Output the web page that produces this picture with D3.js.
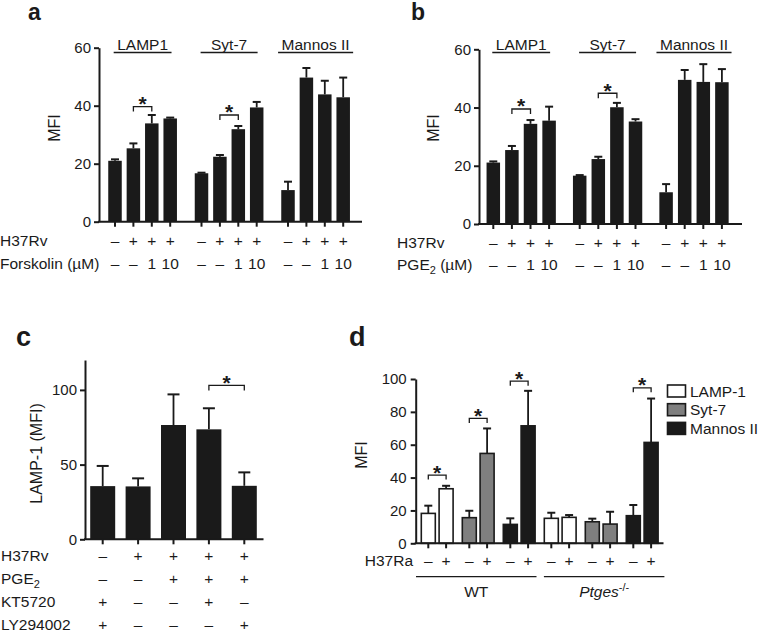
<!DOCTYPE html>
<html><head><meta charset="utf-8">
<script src="https://cdn.jsdelivr.net/npm/d3@7"></script>
<style>
body{margin:0;background:#fff}
text{font-family:"Liberation Sans",Arial,Helvetica,sans-serif;fill:#1a1a1a}
</style>
</head><body>
<svg id="chart" width="758" height="633"></svg>
<script>
// ---------------- DATA ----------------
const abGroups = ["LAMP1", "Syt-7", "Mannos II"];
const abTicks = [0, 20, 40, 60];
// panel a (Forskolin)
const aMean = [[21.0, 25.3, 33.9, 35.6], [16.7, 22.4, 31.9, 39.4], [10.9, 49.7, 43.9, 42.9]];
const aSD   = [[0.5, 1.7, 2.9, 0.3], [0.2, 0.6, 1.1, 1.9], [2.9, 3.3, 4.7, 6.8]];
const aH37Rv = ["–", "+", "+", "+"];
const aForskolin = ["–", "–", "1", "10"];
const aSig = [{g: 0, from: 1, to: 2, level: 39.7}, {g: 1, from: 1, to: 2, level: 36.8}];
// panel b (PGE2)
const bMean = [[21.1, 25.4, 34.4, 35.5], [16.6, 22.3, 40.1, 35.2], [10.9, 49.5, 48.8, 48.7]];
const bSD   = [[0.4, 1.4, 1.3, 4.8], [0.2, 0.8, 1.5, 0.8], [2.8, 3.4, 6.1, 4.5]];
const bH37Rv = ["–", "+", "+", "+"];
const bPGE2 = ["–", "–", "1", "10"];
const bSig = [{g: 0, from: 1, to: 2, level: 39.5}, {g: 1, from: 1, to: 2, level: 44.9}];
// panel c
const cMean = [35.6, 35.4, 76.5, 73.6, 35.8];
const cSD   = [13.5, 5.4, 20.5, 14.1, 9.0];
const cTicks = [0, 50, 100];
const cRowLabels = ["H37Rv", "PGE2", "KT5720", "LY294002"];
const cRows = [
  ["–", "+", "+", "+", "+"],
  ["–", "–", "+", "+", "+"],
  ["+", "–", "–", "+", "–"],
  ["+", "–", "–", "–", "+"]
];
const cSig = [{from: 3, to: 4, level: 103}];
// panel d
const dSeries = ["LAMP-1", "Syt-7", "Mannos II"];
const dStrains = ["WT", "Ptges"];
const dH37Ra = ["–", "+"];
// [strain][series][-,+]
const dMean = [
  [[18.2, 33.2], [15.6, 54.7], [11.5, 71.5]],
  [[15.2, 15.8], [13.1, 11.7], [16.8, 61.4]]
];
const dSD = [
  [[4.7, 1.8], [4.2, 15.2], [3.7, 21.3]],
  [[3.4, 1.4], [1.9, 7.5], [6.5, 26.7]]
];
const dTicks = [0, 20, 40, 60, 80, 100];
const dSig = [
  {strain: 0, series: 0, level: 41.5},
  {strain: 0, series: 1, level: 76.0},
  {strain: 0, series: 2, level: 98.7},
  {strain: 1, series: 2, level: 94.6}
];

// ---------------- DRAWING ----------------
const svg = d3.select("#chart");
const INK = "#1a1a1a";
const FS = 15.5;

function nestedX(first, gstep, istep, nG, nI) {
  const bw = istep * nI;
  const start = first - istep / 2;
  const outer = d3.scaleBand().domain(d3.range(nG))
    .range([start, start + (nG - 1) * gstep + bw]).paddingInner(1 - bw / gstep).paddingOuter(0);
  const inner = d3.scaleBand().domain(d3.range(nI)).range([0, bw]);
  return (g, i) => outer(g) + inner(i) + inner.bandwidth() / 2;
}

function yAxis(scale, ticks, x, pad) {
  const ax = d3.axisLeft(scale).tickValues(ticks).tickSize(5).tickSizeOuter(0).tickPadding(pad || 3);
  const g = svg.append("g").attr("transform", `translate(${x},0)`).call(ax);
  g.select(".domain").attr("stroke", INK).attr("stroke-width", 2);
  g.selectAll(".tick line").attr("stroke", INK).attr("stroke-width", 2);
  g.selectAll(".tick text").attr("font-size", 15).attr("fill", INK)
    .attr("font-family", '"Liberation Sans",Arial,sans-serif');
  return g;
}

function xBase(x0, x1, y0, centers) {
  svg.append("line").attr("x1", x0 - 1).attr("x2", x1).attr("y1", y0).attr("y2", y0)
    .attr("stroke", INK).attr("stroke-width", 2);
  svg.append("g").selectAll("line").data(centers).join("line")
    .attr("x1", d => d).attr("x2", d => d).attr("y1", y0).attr("y2", y0 + 5)
    .attr("stroke", INK).attr("stroke-width", 2);
}

function bar(cx, w, v, sd, y, capW, fill, stroke) {
  const y0 = y(0);
  svg.append("rect").attr("x", cx - w / 2).attr("y", y(v)).attr("width", w).attr("height", y0 - y(v))
    .attr("fill", fill).attr("stroke", stroke || "none").attr("stroke-width", stroke ? 1.6 : 0);
  svg.append("line").attr("x1", cx).attr("x2", cx).attr("y1", y(v)).attr("y2", y(v + sd))
    .attr("stroke", INK).attr("stroke-width", 1.8);
  svg.append("line").attr("x1", cx - capW / 2).attr("x2", cx + capW / 2).attr("y1", y(v + sd)).attr("y2", y(v + sd))
    .attr("stroke", INK).attr("stroke-width", 2);
}

function bracket(x1, x2, yb, leg) {
  svg.append("path").attr("d", `M${x1},${yb + leg}V${yb}H${x2}V${yb + leg}`)
    .attr("fill", "none").attr("stroke", INK).attr("stroke-width", 1.3);
  svg.append("text").attr("x", (x1 + x2) / 2).attr("y", yb + 4.5).attr("text-anchor", "middle")
    .attr("font-size", 21).attr("font-weight", "bold").text("*");
}

function panelLabel(t, x, y, fs) {
  svg.append("text").attr("x", x).attr("y", y).attr("font-size", fs).attr("font-weight", "bold").text(t);
}

function yTitle(t, x, y) {
  svg.append("text").attr("transform", `translate(${x},${y}) rotate(-90)`).attr("text-anchor", "middle")
    .attr("font-size", 16).text(t);
}

// ---- panels a & b ----
function panelAB(o) {
  const xc = nestedX(o.first, o.gstep, o.istep, 3, 4);
  const centers = [];
  o.mean.forEach((grp, g) => grp.forEach((v, i) => {
    centers.push(xc(g, i));
    bar(xc(g, i), 13.5, v, o.sd[g][i], o.y, 8, INK);
  }));
  xBase(o.axisX, o.axisEnd, o.y(0), centers);
  yAxis(o.y, abTicks, o.axisX);
  abGroups.forEach((name, g) => {
    const c = (xc(g, 0) + xc(g, 3)) / 2;
    const t = svg.append("text").attr("x", c).attr("y", 50).attr("text-anchor", "middle")
      .attr("font-size", FS).text(name);
    const w = Math.max(t.node().getComputedTextLength() + 7, 57);
    svg.append("line").attr("x1", c - w / 2).attr("x2", c + w / 2).attr("y1", 52.5).attr("y2", 52.5)
      .attr("stroke", INK).attr("stroke-width", 1.3);
  });
  o.sig.forEach(s => bracket(xc(s.g, s.from), xc(s.g, s.to), o.y(s.level), 5));
  [o.row1, o.row2].forEach((row, r) => {
    abGroups.forEach((_, g) => row.forEach((s, i) => {
      svg.append("text").attr("x", xc(g, i)).attr("y", o.rowY[r]).attr("text-anchor", "middle")
        .attr("font-size", FS).text(s);
    }));
  });
  svg.append("text").attr("x", o.labelX).attr("y", o.rowY[0]).attr("font-size", FS).text("H37Rv");
  const l2 = svg.append("text").attr("x", o.labelX).attr("y", o.rowY[1]).attr("font-size", FS);
  o.row2Label(l2);
  yTitle("MFI", o.titleX, 128);
}

panelAB({
  mean: aMean, sd: aSD, sig: aSig, row1: aH37Rv, row2: aForskolin,
  first: 115, gstep: 86.5, istep: 18.4, axisX: 99, axisEnd: 362,
  y: d3.scaleLinear().domain([0, 60]).range([221.7, 47.7]),
  rowY: [246, 268.5], labelX: 0, titleX: 60,
  row2Label: t => t.text("Forskolin (µM)")
});
panelAB({
  mean: bMean, sd: bSD, sig: bSig, row1: bH37Rv, row2: bPGE2,
  first: 493.3, gstep: 86.4, istep: 18.6, axisX: 479, axisEnd: 742,
  y: d3.scaleLinear().domain([0, 60]).range([224, 49.3]),
  rowY: [247.5, 269.5], labelX: 397, titleX: 439,
  row2Label: t => {
    t.append("tspan").text("PGE");
    t.append("tspan").attr("font-size", 11).attr("dy", 4).text("2");
    t.append("tspan").attr("dy", -4).text(" (µM)");
  }
});
panelLabel("a", 28, 19.5, 23);
panelLabel("b", 411, 19.5, 23);

// ---- panel c ----
(function () {
  const y = d3.scaleLinear().domain([0, 120]).range([539.3, 539.3 - 120 * 1.494]);
  const x = d3.scaleBand().domain(d3.range(cMean.length)).range([85, 262]).paddingInner(0.294).paddingOuter(0.147);
  const cx = i => x(i) + x.bandwidth() / 2;
  cMean.forEach((v, i) => bar(cx(i), x.bandwidth(), v, cSD[i], y, 12, INK));
  xBase(85, 263.5, y(0), cMean.map((_, i) => cx(i)));
  yAxis(y, cTicks, 85);
  cSig.forEach(s => bracket(cx(s.from), cx(s.to), y(s.level), 5));
  const rowY = [561, 584, 607, 629.5];
  cRows.forEach((row, r) => {
    row.forEach((s, i) => svg.append("text").attr("x", cx(i)).attr("y", rowY[r]).attr("text-anchor", "middle")
      .attr("font-size", FS).text(s));
    const t = svg.append("text").attr("x", 1).attr("y", rowY[r]).attr("font-size", FS);
    if (cRowLabels[r] === "PGE2") {
      t.append("tspan").text("PGE");
      t.append("tspan").attr("font-size", 11).attr("dy", 4).text("2");
    } else t.text(cRowLabels[r]);
  });
  yTitle("LAMP-1 (MFI)", 42, 453.5);
  panelLabel("c", 16, 346, 27);
})();

// ---- panel d ----
(function () {
  const y = d3.scaleLinear().domain([0, 100]).range([543.3, 379]);
  const xc = nestedX(428.3, 41, 17.8, 6, 2);
  const fills = ["#ffffff", "#7f7f7f", INK];
  const centers = [];
  dMean.forEach((strain, st) => strain.forEach((pair, se) => pair.forEach((v, k) => {
    const p = st * 3 + se;
    centers.push(xc(p, k));
    bar(xc(p, k), 14, v, dSD[st][se][k], y, 8, fills[se], INK);
    svg.append("text").attr("x", xc(p, k)).attr("y", 566).attr("text-anchor", "middle")
      .attr("font-size", FS).text(dH37Ra[k]);
  })));
  xBase(415.7, 663.5, y(0), centers);
  yAxis(y, dTicks, 415.7, 4);
  dSig.forEach(s => {
    const p = s.strain * 3 + s.series;
    bracket(xc(p, 0), xc(p, 1), y(s.level), 4.5);
  });
  svg.append("text").attr("x", 413).attr("y", 566).attr("text-anchor", "end").attr("font-size", FS).text("H37Ra");
  const wt0 = xc(0, 0) - 12.3, wt1 = xc(2, 1) + 8.4, pt0 = xc(3, 0) - 7.4, pt1 = xc(5, 1) + 13.3;
  [[wt0, wt1], [pt0, pt1]].forEach(([a, b]) => svg.append("line").attr("x1", a).attr("x2", b)
    .attr("y1", 576.7).attr("y2", 576.7).attr("stroke", INK).attr("stroke-width", 1.3));
  svg.append("text").attr("x", (wt0 + wt1) / 2).attr("y", 597).attr("text-anchor", "middle")
    .attr("font-size", FS).text(dStrains[0]);
  const pt = svg.append("text").attr("x", (pt0 + pt1) / 2).attr("y", 597).attr("text-anchor", "middle")
    .attr("font-size", FS);
  pt.append("tspan").attr("font-style", "italic").text(dStrains[1]);
  pt.append("tspan").attr("font-size", 11).attr("dy", -6).text("-/-");
  const lg = svg.append("g");
  dSeries.forEach((name, i) => {
    const yy = 385 + i * 18.7;
    lg.append("rect").attr("x", 667.5).attr("y", yy).attr("width", 18).attr("height", 12)
      .attr("fill", fills[i]).attr("stroke", INK).attr("stroke-width", 1.6);
    lg.append("text").attr("x", 690).attr("y", yy + 11.5).attr("font-size", FS).text(name);
  });
  yTitle("MFI", 367, 455);
  panelLabel("d", 349, 346, 27);
})();
</script>
</body></html>
